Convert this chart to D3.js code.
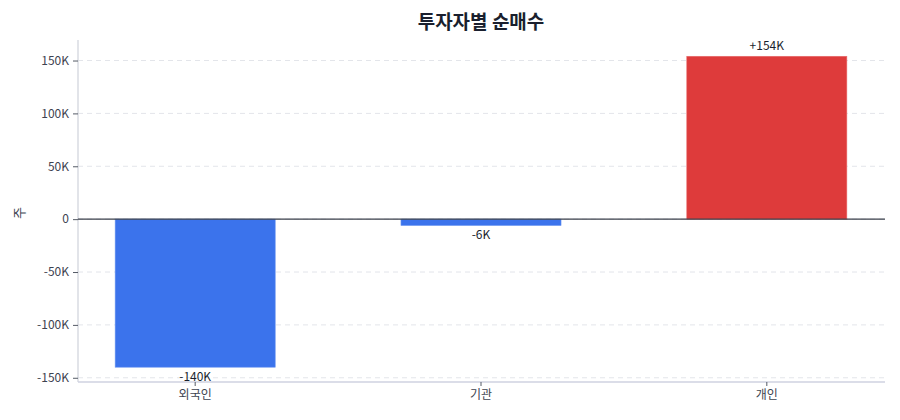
<!DOCTYPE html>
<html><head><meta charset="utf-8">
<script src="https://cdn.jsdelivr.net/npm/d3@7"></script>
<style>body{margin:0;background:#fff;}svg{display:block;font-family:"Noto Sans CJK KR","Noto Sans",sans-serif;}</style>
</head><body><svg id="c" width="900" height="420"></svg>
<script>
const categories = ["외국인", "기관", "개인"];
const values = [-140000, -6000, 154000];
const valueLabels = ["-140K", "-6K", "+154K"];
const yTicks = [-150000, -100000, -50000, 0, 50000, 100000, 150000];
const tickLabels = ["-150K", "-100K", "-50K", "0", "50K", "100K", "150K"];

const svg = d3.select("#c");
const m = {l:78, r:16, t:40, b:38};
const W = 900, H = 420;
const x = d3.scaleBand().domain(categories).range([m.l, W - m.r]).paddingInner(0.44).paddingOuter(0.13);
const y = d3.scaleLinear().domain([-154000, 169400]).range([H - m.b, m.t]);

svg.append("text").attr("x", (m.l + W - m.r)/2).attr("y", 29).attr("text-anchor","middle")
  .attr("font-size", 19).attr("font-weight", 700).attr("fill", "#1a1f2e").text("투자자별 순매수");

// grid
svg.append("g").selectAll("line").data(yTicks).join("line")
  .attr("x1", m.l).attr("x2", W - m.r).attr("y1", d=>y(d)).attr("y2", d=>y(d))
  .attr("stroke", "#e3e5ea").attr("stroke-dasharray", "5,4").attr("stroke-width", 1);

// y axis
const ya = svg.append("g").attr("transform", `translate(${m.l},0)`)
  .call(d3.axisLeft(y).tickValues(yTicks).tickFormat((d,i)=>tickLabels[i]).tickSize(5).tickPadding(4));
ya.select(".domain").attr("stroke", "#d8dbe2").attr("stroke-width", 1.5).attr("d", `M0,${m.t}V${H-m.b}`);
ya.selectAll(".tick line").attr("stroke", "#555b66");
ya.selectAll(".tick text").attr("font-size", 12).attr("fill", "#3d4350").attr("font-family", "'Noto Sans CJK KR','Noto Sans',sans-serif");

// bars
const colorOf = v => v >= 0 ? "#de3b3b" : "#3b73ec";
svg.append("g").selectAll("rect").data(values).join("rect")
  .attr("x", (d,i)=>x(categories[i])).attr("width", x.bandwidth())
  .attr("y", d=>y(Math.max(0,d))).attr("height", d=>Math.abs(y(d)-y(0)))
  .attr("fill", colorOf).attr("stroke", d=> d>=0 ? "#e86a6a" : "#6a95f0").attr("stroke-width", 0.6);

// zero line
svg.append("line").attr("x1", m.l).attr("x2", W - m.r + 1).attr("y1", y(0)).attr("y2", y(0))
  .attr("stroke", "#3a3f4a").attr("stroke-width", 1.2);

// x axis
const xa = svg.append("g").attr("transform", `translate(0,${H - m.b})`)
  .call(d3.axisBottom(x).tickSize(4).tickPadding(4));
xa.select(".domain").attr("stroke", "#cfd2e0").attr("stroke-width", 1.5).attr("d", `M${m.l},0H${W-m.r+1}`);
xa.selectAll(".tick line").attr("stroke", "#555b66");
xa.selectAll(".tick text").attr("font-size", 12).attr("fill", "#3d4350").attr("font-family", "'Noto Sans CJK KR','Noto Sans',sans-serif");

// value labels
svg.append("g").selectAll("text").data(values).join("text")
  .attr("x", (d,i)=>x(categories[i]) + x.bandwidth()/2)
  .attr("y", d=> d>=0 ? y(d) - 6 : y(d) + 14)
  .attr("text-anchor","middle").attr("font-size", 12).attr("fill", "#1a1f2e")
  .text((d,i)=>valueLabels[i]);

// y label
svg.append("text").attr("transform", "translate(24,213) rotate(-90)").attr("text-anchor","middle")
  .attr("font-size", 13).attr("fill", "#3d4350").text("주");
</script></body></html>
